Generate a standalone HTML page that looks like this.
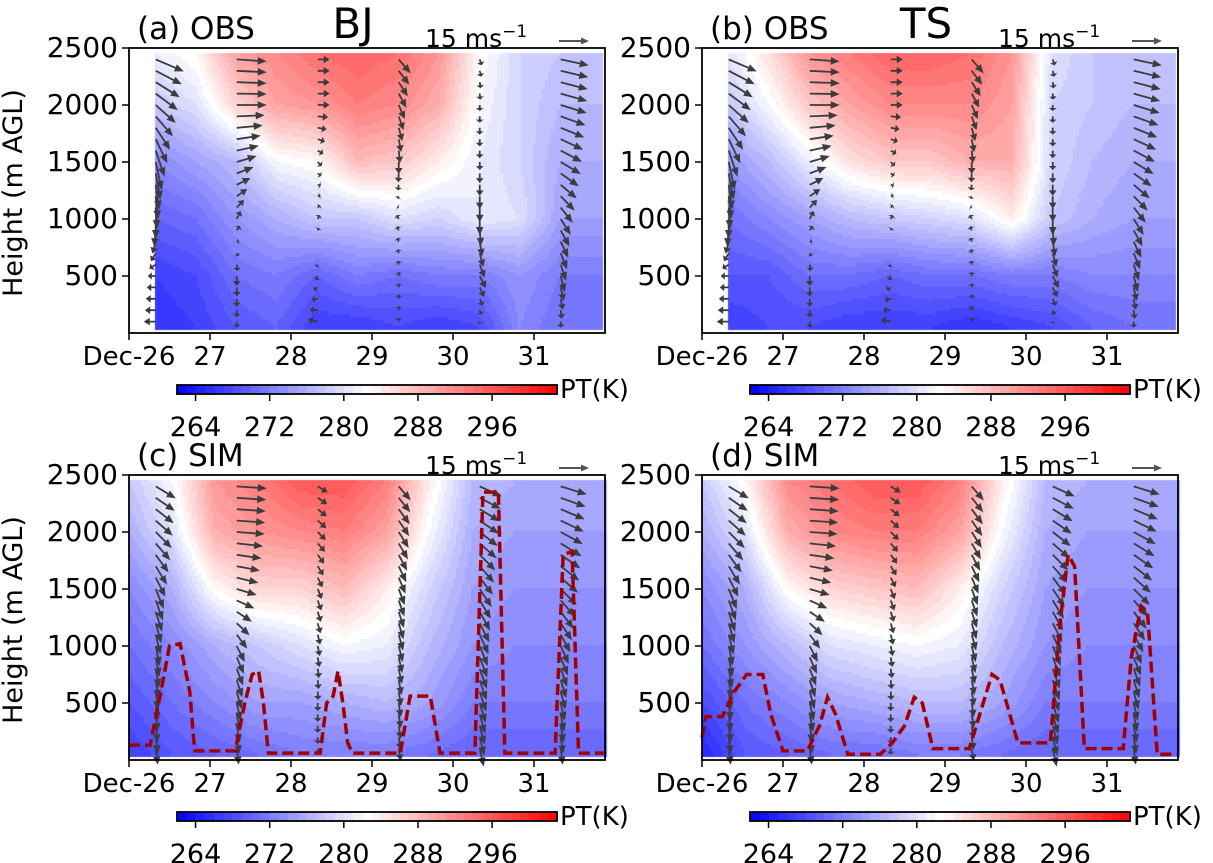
<!DOCTYPE html>
<html><head><meta charset="utf-8">
<style>
body{margin:0;background:#fff;width:1213px;height:863px;overflow:hidden;position:relative;font-family:"Liberation Sans","DejaVu Sans",sans-serif}
canvas{position:absolute;left:0;top:0}
svg{position:absolute;left:0;top:0}
text{font-family:"DejaVu Sans","Liberation Sans",sans-serif;fill:#000}
</style></head><body>
<canvas id="cv" width="1213" height="863"></canvas>
<svg id="sv" width="1213" height="863"></svg>
<script>
// ---- data ----
const heights = [50,500,1000,1500,2000,2450];
const timesObs = [0.33,0.83,1.33,1.83,2.33,2.83,3.33,3.83,4.33,4.83,5.33,5.83];
const timesSim = [0,0.53,1.06,1.59,2.12,2.65,3.18,3.71,4.24,4.77,5.30,5.86];
const ptA = [
[266,267,269,270,267,267,268,267,268,273,271,271],
[267,268,271,272,270,272,271,272,272,274,272,272],
[270,271,274,276,278,278,280,279,281,280,275,275],
[273,275,277,282,283,288,287,284,281,279,276,276],
[278,280,286,290,291,293,292,289,282,279,277,277],
[281,283,290,292,294,295,294,291,283,279,278,278]];
const ptB = [
[267,268,268,267,267,267,266,267,268,270,271,271],
[269,269,271,271,270,271,271,272,272,273,273,273],
[271,273,275,277,278,279,280,284,278,276,275,275],
[274,277,281,285,287,287,289,289,279,277,276,276],
[278,282,287,290,292,292,292,290,279,278,277,277],
[280,285,291,293,295,295,294,291,280,278,278,278]];
const ptC = [
[267,269,270,271,272,272,272,271,270,270,270,270],
[269,271,273,275,275,276,277,275,272,272,272,272],
[271,273,276,278,280,282,281,277,274,273,273,273],
[273,276,283,286,286,288,284,279,275,274,274,274],
[276,280,289,291,292,293,290,282,276,275,275,275],
[278,282,291,293,296,296,293,284,277,276,276,276]];
const ptD = [
[265,269,270,271,271,272,272,271,270,270,270,270],
[268,271,273,275,276,277,277,275,272,272,272,272],
[271,274,277,280,281,282,281,277,274,273,273,273],
[273,276,283,286,287,288,284,279,275,274,274,274],
[276,280,289,292,293,293,290,282,276,275,275,275],
[278,283,292,294,296,296,293,284,277,276,276,276]];
const windTimes = [0.33,1.33,2.33,3.33,4.33,5.33];
const windLevels = [100,500,1000,1500,2000,2400];
const windUObs = [[-6,-4,0,3,10,14],[0,0,2,10,15,15],[-5,-1,1,2,6,6],[0,0,-1,0,3,6],[0,3,0,0,0,1],[0,2,5,10,13,14]];
const windVObs = [[0,0,-10,-14,-9,-6],[-3,-5,4,3,0,-1],[1,-2,2,-2,0,0],[2,2,2,-6,-7,-7],[-1,-6,-8,-4,-3,-3],[-3,-8,-8,-6,-4,-3]];
const windUSim = [[1,1,2,4,8,10],[1,2,4,10,14,15],[0,0,1,2,4,5],[1,1,2,3,5,6],[2,3,4,6,9,11],[1,2,4,8,11,13]];
const windVSim = [[-8,-9,-10,-10,-8,-6],[-8,-9,-8,-3,-1,-1],[-3,-4,-5,-5,-4,-3],[-6,-7,-8,-8,-8,-7],[-9,-10,-10,-9,-7,-5],[-8,-9,-9,-8,-6,-4]];
const pblTimesC = [0,.26,.38,.5,.63,.75,.81,1.31,1.43,1.52,1.6,1.66,1.72,2.36,2.44,2.52,2.58,2.64,2.7,2.76,3.35,3.47,3.72,3.84,4.27,4.37,4.56,4.64,5.26,5.36,5.47,5.55,5.86];
const pblC = [130,130,550,1000,1020,600,80,80,500,750,780,500,60,60,500,560,780,500,150,60,60,560,560,60,60,2350,2350,60,60,1800,1830,60,60];
const pblTimesD = [0,.05,.25,.4,.55,.75,.85,1.0,1.3,1.45,1.55,1.65,1.8,2.2,2.35,2.5,2.62,2.72,2.85,3.3,3.45,3.58,3.68,3.9,4.3,4.42,4.52,4.6,4.72,5.2,5.3,5.42,5.5,5.62,5.86];
const pblD = [200,380,380,600,750,750,400,80,80,300,550,400,50,50,150,300,550,500,100,100,450,750,700,150,150,1200,1800,1700,100,100,900,1350,1300,50,50];
const xTickLabels = ["Dec-26","27","28","29","30","31"];
const yTicks = [500,1000,1500,2000,2500];
const cbTicks = [264,272,280,288,296];
const vmin=262, vmax=303;

// ---- layout ----
const panels = [
 {ox:0,oy:0,pt:ptA,t:timesObs,u:windUObs,v:windVObs,lab:"(a) OBS",site:"BJ",pbl:null},
 {ox:573,oy:0,pt:ptB,t:timesObs,u:windUObs,v:windVObs,lab:"(b) OBS",site:"TS",pbl:null},
 {ox:0,oy:427,pt:ptC,t:timesSim,u:windUSim,v:windVSim,lab:"(c) SIM",site:"",pbl:[pblTimesC,pblC]},
 {ox:573,oy:427,pt:ptD,t:timesSim,u:windUSim,v:windVSim,lab:"(d) SIM",site:"",pbl:[pblTimesD,pblD]}];
const NS="http://www.w3.org/2000/svg";
const sv=document.getElementById('sv');
const ctx=document.getElementById('cv').getContext('2d');
function mk(tag,attrs,parent){const e=document.createElementNS(NS,tag);for(const k in attrs)e.setAttribute(k,attrs[k]);(parent||sv).appendChild(e);return e;}
function bwr(v){let f=(v-vmin)/(vmax-vmin);f=Math.max(0,Math.min(1,f));let r,g,b;
 if(f<0.5){r=g=Math.round(f*2*255);b=255;}else{r=255;g=b=Math.round((1-f)*2*255);}return `rgb(${r},${g},${b})`;}
function interp1(xs,ys,x){if(x<=xs[0])return ys[0];for(let i=1;i<xs.length;i++){if(x<=xs[i]){const f=(x-xs[i-1])/(xs[i]-xs[i-1]);return ys[i-1]+f*(ys[i]-ys[i-1]);}}return ys[ys.length-1];}

panels.forEach((p,pi)=>{
 const X=t=>129+p.ox+t*81, Y=h=>333+p.oy-h*0.114;
 const g=mk('g',{});
 
 
 const t0=p.t[0],t1=p.t[p.t.length-1];
 const x0=X(t0),x1=X(t1),y0=Y(2450),y1=Y(50);
 const step=3;
 for(let x=x0;x<x1;x+=step){const t=t0+(x+step/2-x0)/81;
  const col=p.pt.map(row=>interp1(p.t,row,t));
  for(let y=y0;y<y1;y+=step){const h=(333+p.oy-(y+step/2))/0.114;
   let v=interp1(heights,col,h); v=Math.floor(v)+0.5;
   ctx.fillStyle=bwr(v);ctx.fillRect(Math.floor(x),Math.floor(y),step+1,step+1);}}
 const wg=mk('g',{},g);
 
 
 p.u.forEach((uc,ci)=>{
  for(let h=100;h<=2450;h+=100){
   const u=interp1(windLevels,uc,h), v=interp1(windLevels,p.v[ci],h);
   const sx=X(windTimes[ci]), sy=Y(h);
   const L=Math.hypot(u,v)*2; if(L<1)continue;
   const dx=u*2,dy=-v*2, ux=dx/L,uy=dy/L;
   const hl=Math.min(9,L*0.5), hw=3.8;
   const bx=sx+dx-ux*hl, by=sy+dy-uy*hl;
   const a=mk('path',{d:`M${sx-uy*0.9},${sy+ux*0.9}L${bx-uy*0.9},${by+ux*0.9}L${bx-uy*hw},${by+ux*hw}L${sx+dx},${sy+dy}L${bx+uy*hw},${by-ux*hw}L${bx+uy*0.9},${by-ux*0.9}L${sx+uy*0.9},${sy-ux*0.9}Z`,fill:'#3c3c3c'},wg);
   
   
  }});
 if(p.pbl){const d=p.pbl[0].map((t,i)=>(i?'L':'M')+X(t)+','+Y(p.pbl[1][i])).join('');
  const pl=mk('path',{d,fill:'none',stroke:'#a00000','stroke-width':3.5,'stroke-dasharray':'11,5'},g);
  
  }
 const fr=mk('rect',{x:X(0),y:48+p.oy,width:476,height:285,fill:'none',stroke:'#000','stroke-width':1.8},g);
 
 
 xTickLabels.forEach((l,i)=>{mk('line',{x1:X(i),x2:X(i),y1:333+p.oy,y2:340+p.oy,stroke:'#000','stroke-width':1.5},g);
  const t=mk('text',{x:X(i),y:365+p.oy,'font-size':26,'text-anchor':'middle'},g);t.textContent=l;
  
  });
 yTicks.forEach(v=>{mk('line',{x1:X(0)-7,x2:X(0),y1:Y(v),y2:Y(v),stroke:'#000','stroke-width':1.5},g);
  const t=mk('text',{x:X(0)-11,y:Y(v)+9,'font-size':28,'text-anchor':'end'},g);t.textContent=v;
  
  });
 if(p.ox===0){const t=mk('text',{x:0,y:0,'font-size':27,'text-anchor':'middle',transform:`translate(22,${193+p.oy}) rotate(-90)`},g);t.textContent='Height (m AGL)';
  
  }
 const lt=mk('text',{x:137+p.ox,y:39+p.oy,'font-size':31},g);lt.textContent=p.lab;
 
 
 if(p.site){const st=mk('text',{x:353+p.ox,y:38+p.oy,'font-size':42,'text-anchor':'middle'},g);st.textContent=p.site;
  
  }
 const rk=mk('text',{x:425+p.ox,y:47+p.oy,'font-size':25},g);rk.innerHTML='15 ms<tspan dy="-10" font-size="17">−1</tspan>';
 
 
 const ra=mk('path',{d:`M${559+p.ox},${40+p.oy}L${581+p.ox},${40+p.oy}L${581+p.ox},${37.5+p.oy}L${589+p.ox},${41+p.oy}L${581+p.ox},${44.5+p.oy}L${581+p.ox},${42+p.oy}L${559+p.ox},${42+p.oy}Z`,fill:'#555'},g);
 
 
 const cx0=177+p.ox,cx1=557+p.ox,cy=385+p.oy;
 const CB=v=>cx0+(v-vmin)/(vmax-vmin)*(cx1-cx0);
 for(let v=vmin;v<vmax;v+=1){mk('rect',{x:CB(v),y:cy,width:(cx1-cx0)/(vmax-vmin)+0.6,height:9,fill:bwr(v+0.5)},g);}
 const cbr=mk('rect',{x:cx0,y:cy,width:cx1-cx0,height:9,fill:'none',stroke:'#000','stroke-width':1.8},g);
 
 
 cbTicks.forEach(v=>{mk('line',{x1:CB(v),x2:CB(v),y1:cy+9,y2:cy+16,stroke:'#000','stroke-width':1.5},g);
  const t=mk('text',{x:CB(v),y:cy+51,'font-size':27,'text-anchor':'middle'},g);t.textContent=v;
  
  });
 const pk=mk('text',{x:cx1+3,y:cy+13,'font-size':26},g);pk.textContent='PT(K)';
 
 
});
</script>
</body></html>
